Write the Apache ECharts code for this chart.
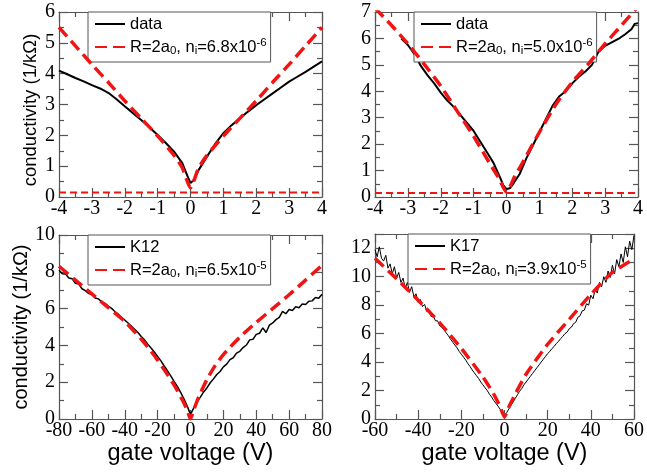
<!DOCTYPE html>
<html>
<head>
<meta charset="utf-8">
<script src="https://cdn.jsdelivr.net/npm/echarts@6/dist/echarts.min.js"></script>
<style>
  html, body { margin: 0; padding: 0; background: #fff; }
  #chart { width: 647px; height: 475px; }
</style>
</head>
<body>
<div id="chart"></div>
<script>
// ---------- measured conductivity and model curves ----------

// Panel 1: sample "data", gate voltage -4..4 V
const p1Voltage = [-4, -3.75, -3.5, -3.25, -3, -2.75, -2.5, -2.25, -2, -1.75, -1.5, -1.25, -1, -0.75, -0.5, -0.25, -0.1, 0, 0.05, 0.1, 0.25, 0.5, 0.75, 1, 1.25, 1.5, 1.75, 2, 2.25, 2.5, 2.75, 3, 3.25, 3.5, 3.75, 4];
const p1Data    = [4.1, 3.98, 3.86, 3.75, 3.63, 3.52, 3.38, 3.17, 2.94, 2.72, 2.5, 2.26, 2.01, 1.75, 1.47, 1.1, 0.7, 0.45, 0.45, 0.55, 0.88, 1.31, 1.72, 2.07, 2.33, 2.55, 2.77, 2.98, 3.17, 3.36, 3.55, 3.74, 3.9, 4.06, 4.23, 4.4];
const p1FitVoltage = [-4, -3.5, -3, -2.5, -2, -1.5, -1, -0.5, -0.25, 0, 0.25, 0.5, 1, 1.5, 2, 2.5, 3, 3.5, 4];
const p1Fit        = [5.5, 4.9, 4.3, 3.72, 3.12, 2.55, 1.98, 1.35, 0.95, 0.3, 0.95, 1.35, 1.98, 2.55, 3.12, 3.72, 4.3, 4.9, 5.5];
const p1Floor = 0.15;

// Panel 2: sample "data", gate voltage -4..4 V
const p2Voltage = [-3.2, -3.0, -2.8, -2.6, -2.4, -2.2, -2.0, -1.8, -1.6, -1.4, -1.2, -1.0, -0.8, -0.6, -0.4, -0.2, -0.1, 0, 0.1, 0.2, 0.4, 0.6, 0.8, 1.0, 1.2, 1.4, 1.6, 1.8, 2.0, 2.2, 2.4, 2.6, 2.8, 3.0, 3.2, 3.4, 3.6, 3.8, 3.9, 4.0];
const p2Data    = [6.0, 5.75, 5.4, 4.95, 4.6, 4.3, 3.95, 3.65, 3.4, 3.1, 2.8, 2.5, 2.1, 1.7, 1.3, 0.75, 0.45, 0.3, 0.33, 0.49, 0.87, 1.45, 1.95, 2.45, 2.95, 3.45, 3.8, 4.0, 4.3, 4.55, 4.75, 5.0, 5.5, 5.72, 5.85, 5.98, 6.15, 6.35, 6.55, 6.58];
const p2FitVoltage = [-4, -3.5, -3, -2.5, -2, -1.5, -1, -0.5, -0.25, 0, 0.25, 0.5, 1, 1.5, 2, 2.5, 3, 3.5, 4];
const p2Fit        = [7.15, 6.5, 5.8, 5.02, 4.2, 3.25, 2.3, 1.25, 0.75, 0.18, 0.78, 1.32, 2.45, 3.5, 4.35, 5.05, 5.8, 6.5, 7.2];
const p2Floor = 0.15;

// Panel 3: sample K12, gate voltage -80..80 V
const k12Voltage = [-80, -78, -76, -74, -72, -70, -68, -66, -64, -62, -60, -58, -56, -54, -52, -50, -48, -46, -44, -42, -40, -38, -36, -34, -32, -30, -28, -26, -24, -22, -20, -18, -16, -14, -12, -10, -8, -6, -4, -2, 0, 2, 4, 6, 8, 10, 12, 14, 16, 18, 20, 22, 24, 26, 28, 30, 32, 34, 36, 38, 40, 42, 44, 46, 48, 50, 52, 54, 56, 58, 60, 62, 64, 66, 68, 70, 72, 74, 76, 78, 80];
const k12Data    = [8.08, 7.9, 7.88, 7.66, 7.62, 7.38, 7.33, 7.08, 6.98, 6.82, 6.78, 6.58, 6.53, 6.36, 6.28, 6.14, 6.01, 5.84, 5.7, 5.52, 5.38, 5.22, 5.05, 4.88, 4.7, 4.48, 4.3, 4.06, 3.86, 3.64, 3.4, 3.16, 2.88, 2.62, 2.34, 2.04, 1.77, 1.45, 1.1, 0.7, 0.25, 0.6, 0.92, 1.19, 1.47, 1.69, 1.97, 2.18, 2.42, 2.58, 2.83, 2.98, 3.23, 3.33, 3.58, 3.68, 3.88, 4.02, 4.3, 4.33, 4.6, 4.66, 4.95, 4.7, 5.1, 5.22, 5.4, 5.52, 5.85, 5.72, 5.95, 5.9, 6.1, 6.05, 6.25, 6.22, 6.4, 6.42, 6.6, 6.56, 6.78];
const k12FitVoltage = [-80, -70, -60, -50, -40, -30, -25, -20, -15, -10, -5, -2, 0, 2, 5, 10, 15, 20, 30, 40, 50, 60, 70, 80];
const k12Fit        = [8.3, 7.55, 6.8, 6.05, 5.3, 4.35, 3.8, 3.2, 2.55, 1.85, 1.05, 0.48, 0.0, 0.5, 1.2, 2.15, 2.9, 3.5, 4.45, 5.25, 6.0, 6.75, 7.55, 8.35];

// Panel 4: sample K17, gate voltage -60..60 V
const k17Voltage = [-60, -59, -58, -57, -56, -55, -54, -53, -52, -51, -50, -49, -48, -47, -46, -45, -44, -43, -42, -41, -40, -39, -38, -37, -36, -35, -34, -33, -32, -31, -30, -29, -28, -27, -26, -25, -24, -23, -22, -21, -20, -19, -18, -17, -16, -15, -14, -13, -12, -11, -10, -9, -8, -7, -6, -5, -4, -3, -2, -1, 0, 1, 2, 3, 4, 5, 6, 7, 8, 9, 10, 11, 12, 13, 14, 15, 16, 17, 18, 19, 20, 21, 22, 23, 24, 25, 26, 27, 28, 29, 30, 31, 32, 33, 34, 35, 36, 37, 38, 39, 40, 41, 42, 43, 44, 45, 46, 47, 48, 49, 50, 51, 52, 53, 54, 55, 56, 57, 58, 59, 60];
const k17Data    = [11.9, 11.4, 12.1, 11.3, 11.1, 11.5, 10.6, 10.9, 10.2, 10.7, 9.9, 10.3, 9.6, 9.9, 9.2, 9.6, 8.9, 9.3, 8.6, 8.8, 8.2, 8.4, 7.9, 8.05, 7.55, 7.65, 7.2, 7.25, 6.9, 6.9, 6.55, 6.45, 6.25, 6.05, 5.85, 5.6, 5.4, 5.2, 5.0, 4.75, 4.55, 4.35, 4.15, 3.9, 3.7, 3.45, 3.25, 3.05, 2.85, 2.6, 2.4, 2.2, 2.0, 1.75, 1.55, 1.3, 1.1, 0.9, 0.68, 0.45, 0.25, 0.45, 0.7, 0.95, 1.2, 1.45, 1.7, 1.95, 2.15, 2.4, 2.6, 2.8, 3.0, 3.2, 3.4, 3.6, 3.8, 4.0, 4.2, 4.4, 4.6, 4.75, 4.95, 5.1, 5.3, 5.45, 5.65, 5.8, 6.0, 6.1, 6.35, 6.45, 6.7, 6.8, 7.15, 7.25, 7.6, 7.65, 8.1, 8.0, 8.7, 8.45, 9.1, 8.85, 9.6, 9.3, 10.0, 9.6, 10.4, 9.95, 10.8, 10.2, 11.2, 10.7, 11.6, 11.0, 12.1, 11.4, 12.5, 11.9, 12.9];
const k17FitVoltage = [-60, -50, -40, -30, -20, -10, -5, -2, 0, 2, 5, 10, 20, 30, 40, 50, 60];
const k17Fit        = [11.3, 9.85, 8.35, 6.75, 4.95, 2.95, 1.75, 0.85, 0.15, 0.85, 1.75, 3.15, 5.25, 7.0, 8.75, 10.3, 11.25];

// legend names and their formatted (sub/superscript) labels
const seriesNames = ['data', 'K12', 'K17'];
const fitNames = ['R=2a0, ni=6.8x10-6', 'R=2a0, ni=5.0x10-6', 'R=2a0, ni=6.5x10-5', 'R=2a0, ni=3.9x10-5'];
const fitLabels = {
  'R=2a0, ni=6.8x10-6': 'R=2a{sub|0}, n{sub|i}=6.8x10{sup|-6}',
  'R=2a0, ni=5.0x10-6': 'R=2a{sub|0}, n{sub|i}=5.0x10{sup|-6}',
  'R=2a0, ni=6.5x10-5': 'R=2a{sub|0}, n{sub|i}=6.5x10{sup|-5}',
  'R=2a0, ni=3.9x10-5': 'R=2a{sub|0}, n{sub|i}=3.9x10{sup|-5}'
};
const yTitle = 'conductivity (1/kΩ)';
const xTitle = 'gate voltage (V)';

// ---------- styling ----------
const SANS = 'Liberation Sans';
const SERIF = 'serif';
const FRAME = '#555';
const RED = '#f01414';

const panels = [
  { left: 59,  top: 12,  width: 263, height: 185, x: [-4, 4, 1],   y: [0, 6, 1],   yName: true,  xName: false, yNameSize: 18.5, yNamePad: [0, 11, 0, 0] },
  { left: 375, top: 12,  width: 263, height: 185, x: [-4, 4, 1],   y: [0, 7, 1],   yName: false, xName: false },
  { left: 59,  top: 235, width: 263, height: 184, x: [-80, 80, 20], y: [0, 10, 2], yName: true,  xName: true, yNameSize: 20, yNamePad: [0, 0, 0, 0] },
  { left: 375, top: 234, width: 263, height: 185, x: [-60, 60, 20], y: [0, 13, 2], yName: false, xName: true }
];

function tickSet() {
  return {
    axisLine: { show: true, onZero: false, lineStyle: { color: FRAME, width: 1.2 } },
    axisTick: { show: true, inside: true, length: 9, lineStyle: { color: FRAME, width: 1.2 } },
    minorTick: { show: true, splitNumber: 2, length: 5, lineStyle: { color: FRAME, width: 1.2 } },
    splitLine: { show: false },
    minorSplitLine: { show: false }
  };
}

const grid = [], xAxis = [], yAxis = [];
panels.forEach((p, i) => {
  grid.push({ left: p.left, top: p.top, width: p.width, height: p.height, containLabel: false });
  // bottom x axis with labels
  xAxis.push(Object.assign({
    type: 'value', gridIndex: i, position: 'bottom', min: p.x[0], max: p.x[1], interval: p.x[2],
    axisLabel: { show: true, margin: 2, showMinLabel: true, showMaxLabel: true, color: '#000', fontFamily: SERIF, fontSize: 20 },
    name: p.xName ? xTitle : '', nameLocation: 'middle', nameGap: 33,
    nameTextStyle: { fontFamily: SANS, fontSize: 23.5, color: '#000', verticalAlign: 'middle' }
  }, tickSet()));
  // top x axis: ticks only
  xAxis.push(Object.assign({
    type: 'value', gridIndex: i, position: 'top', min: p.x[0], max: p.x[1], interval: p.x[2],
    axisLabel: { show: false }
  }, tickSet()));
  // left y axis with labels
  yAxis.push(Object.assign({
    type: 'value', gridIndex: i, position: 'left', min: p.y[0], max: p.y[1], interval: p.y[2],
    axisLabel: { show: true, margin: 4, showMinLabel: true, showMaxLabel: p.y[1] % p.y[2] === 0, color: '#000', fontFamily: SERIF, fontSize: 20 },
    name: p.yName ? yTitle : '', nameLocation: 'middle', nameGap: 28, nameRotate: 90,
    nameTextStyle: { fontFamily: SANS, fontSize: p.yNameSize || 18, color: '#000', verticalAlign: 'middle', padding: p.yNamePad || 0 }
  }, tickSet()));
  // right y axis: ticks only
  yAxis.push(Object.assign({
    type: 'value', gridIndex: i, position: 'right', min: p.y[0], max: p.y[1], interval: p.y[2],
    axisLabel: { show: false }
  }, tickSet()));
});

function pairs(xs, ys) { return xs.map((x, k) => [x, ys[k]]); }

function dataLine(name, panel, xs, ys, width) {
  return {
    type: 'line', name: name, xAxisIndex: panel * 2, yAxisIndex: panel * 2,
    data: pairs(xs, ys), symbol: 'none', smooth: false, animation: false, z: 3,
    lineStyle: { color: '#000', width: width }, itemStyle: { color: '#000' }
  };
}
function fitLine(name, panel, xs, ys) {
  return {
    type: 'line', name: name, xAxisIndex: panel * 2, yAxisIndex: panel * 2,
    data: pairs(xs, ys), symbol: 'none', smooth: 0.2, animation: false, z: 4,
    lineStyle: { color: RED, width: 3.5, type: [12, 6] }, itemStyle: { color: RED }
  };
}
function floorLine(panel, range, level) {
  return {
    type: 'line', name: 'floor' + panel, xAxisIndex: panel * 2, yAxisIndex: panel * 2,
    data: [[range[0], level], [range[1], level]], symbol: 'none', animation: false, z: 2,
    lineStyle: { color: RED, width: 2, type: [7, 4] }
  };
}

const series = [
  dataLine(seriesNames[0], 0, p1Voltage, p1Data, 2),
  fitLine(fitNames[0], 0, p1FitVoltage, p1Fit),
  floorLine(0, panels[0].x, p1Floor),
  dataLine(seriesNames[0], 1, p2Voltage, p2Data, 2),
  fitLine(fitNames[1], 1, p2FitVoltage, p2Fit),
  floorLine(1, panels[1].x, p2Floor),
  dataLine(seriesNames[1], 2, k12Voltage, k12Data, 1.5),
  fitLine(fitNames[2], 2, k12FitVoltage, k12Fit),
  dataLine(seriesNames[2], 3, k17Voltage, k17Data, 1),
  fitLine(fitNames[3], 3, k17FitVoltage, k17Fit)
];

function legendBox(left, top, names) {
  return {
    left: left, top: top, orient: 'vertical', selectedMode: false,
    data: names,
    backgroundColor: '#fff', borderColor: '#555', borderWidth: 1,
    padding: [2, 4, 5, 6], itemGap: 3, itemWidth: 30, itemHeight: 14,
    itemStyle: { opacity: 0, borderWidth: 0 },
    textStyle: {
      fontFamily: SANS, fontSize: 16.5, color: '#000', lineHeight: 20,
      rich: {
        sub: { fontFamily: SANS, fontSize: 11.5, lineHeight: 11, verticalAlign: 'bottom', color: '#000' },
        sup: { fontFamily: SANS, fontSize: 11.5, lineHeight: 11, verticalAlign: 'top', color: '#000' }
      }
    },
    formatter: n => fitLabels[n] || n
  };
}

const legend = [
  legendBox(88, 12, [seriesNames[0], fitNames[0]]),
  legendBox(414, 12, [seriesNames[0], fitNames[1]]),
  legendBox(88, 235, [seriesNames[1], fitNames[2]]),
  legendBox(408, 234, [seriesNames[2], fitNames[3]])
];

const chart = echarts.init(document.getElementById('chart'), null, { renderer: 'canvas' });
chart.setOption({
  backgroundColor: '#fff',
  animation: false,
  grid: grid,
  xAxis: xAxis,
  yAxis: yAxis,
  legend: legend,
  series: series
});
</script>
</body>
</html>
